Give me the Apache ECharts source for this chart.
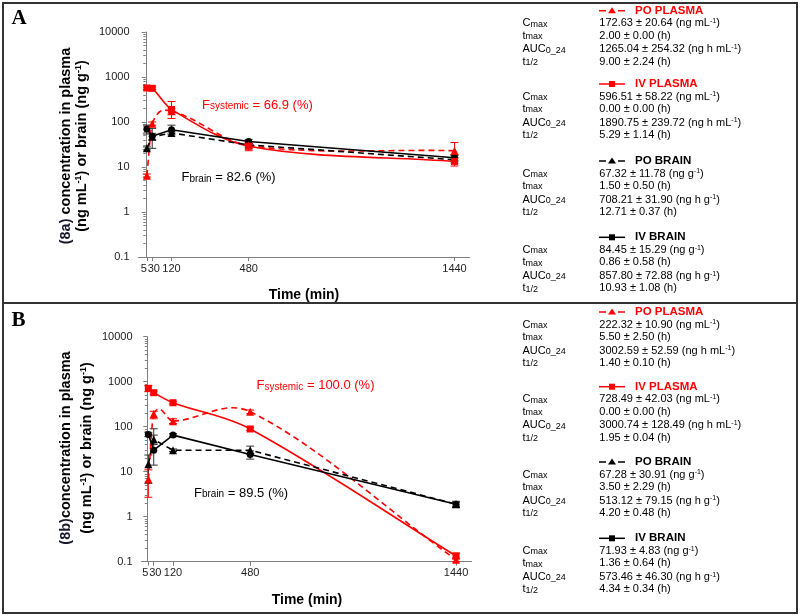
<!DOCTYPE html>
<html><head><meta charset="utf-8">
<script src="https://cdn.jsdelivr.net/npm/echarts@6/dist/echarts.min.js"></script>
<style>html,body{margin:0;padding:0;background:#fff}#c{width:800px;height:616px}</style>
</head><body><div id="c"></div>
<script>
// ---------- data ----------
const times = [5, 30, 120, 480, 1440];
const xTickValues = [5, 30, 120, 480, 1440];
const xLabelValuesMain = [5, 120, 480, 1440];
const xLabelValuesExtra = [30];

// Panel A (8a)
const aIvPlasma    = [570, 560, 190, 29, 13.3];
const aIvPlasmaLo  = [520, 530, 120, 23, 10.5];
const aIvPlasmaHi  = [640, 600, 285, 35, 16];
const aPoPlasma    = [6.4, 92, 172.6, 30, 23];
const aPoPlasmaLo  = [6.0, 85, 150, 27, 19];
const aPoPlasmaHi  = [7.0, 100, 195, 33, 35];
const aIvBrain     = [70, 48, 67, 37, 16];
const aIvBrainLo   = [54, 40, 57, 33, 14];
const aIvBrainHi   = [85, 56, 85, 41, 18];
const aPoBrain     = [26, 47, 57, 31, 14.5];
const aPoBrainLo   = [24, 26, 52, 29, 13];
const aPoBrainHi   = [28, 72, 62, 33, 16];

// Panel B (8b)
const bIvPlasma    = [713, 570, 341, 89, 0.134];
const bIvPlasmaLo  = [600, 520, 320, 82, 0.115];
const bIvPlasmaHi  = [820, 620, 365, 97, 0.155];
const bPoPlasma    = [6.8, 191, 133, 215, 0.11];
const bPoPlasmaLo  = [2.7, 150, 118, 195, 0.1];
const bPoPlasmaHi  = [11, 220, 150, 235, 0.12];
const bIvBrain     = [67.5, 30, 65, 24, 1.9];
const bIvBrainLo   = [60, 14, 60, 19, 1.6];
const bIvBrainHi   = [75, 90, 70, 29, 2.2];
const bPoBrain     = [14.6, 52, 30, 30, 1.9];
const bPoBrainLo   = [5.5, 40, 28, 25, 1.7];
const bPoBrainHi   = [23.5, 65, 32, 37, 2.1];

// Annotations
const aFsys = '66.9', aFbrain = '82.6';
const bFsys = '100.0', bFbrain = '89.5';

// Tables
const seriesNames = ['PO PLASMA', 'IV PLASMA', 'PO BRAIN', 'IV BRAIN'];
const aTable = [
  ['172.63 ± 20.64 (ng mL{sup|-1})', '2.00 ± 0.00 (h)', '1265.04 ± 254.32 (ng h mL{sup|-1})', '9.00 ± 2.24 (h)'],
  ['596.51 ± 58.22 (ng mL{sup|-1})', '0.00 ± 0.00 (h)', '1890.75 ± 239.72 (ng h mL{sup|-1})', '5.29 ± 1.14 (h)'],
  ['67.32 ± 11.78 (ng g{sup|-1})', '1.50 ± 0.50 (h)', '708.21 ± 31.90 (ng h g{sup|-1})', '12.71 ± 0.37 (h)'],
  ['84.45 ± 15.29 (ng g{sup|-1})', '0.86 ± 0.58 (h)', '857.80 ± 72.88 (ng h g{sup|-1})', '10.93 ± 1.08 (h)']
];
const bTable = [
  ['222.32 ± 10.90 (ng mL{sup|-1})', '5.50 ± 2.50 (h)', '3002.59 ± 52.59 (ng h mL{sup|-1})', '1.40 ± 0.10 (h)'],
  ['728.49 ± 42.03 (ng mL{sup|-1})', '0.00 ± 0.00 (h)', '3000.74 ± 128.49 (ng h mL{sup|-1})', '1.95 ± 0.04 (h)'],
  ['67.28 ± 30.91 (ng g{sup|-1})', '3.50 ± 2.29 (h)', '513.12 ± 79.15 (ng h g{sup|-1})', '4.20 ± 0.48 (h)'],
  ['71.93 ± 4.83 (ng g{sup|-1})', '1.36 ± 0.64 (h)', '573.46 ± 46.30 (ng h g{sup|-1})', '4.34 ± 0.34 (h)']
];
const rowLabels = [['C', 'max'], ['t', 'max'], ['AUC', '0_24'], ['t', '1/2']];

// ---------- build ----------
const FF = '"Liberation Sans", Arial, sans-serif';
const RED = '#ff0000', BLK = '#000000';
const zip = (ys) => times.map((t, i) => [t, ys[i]]);
const zipErr = (lo, hi) => times.map((t, i) => [t, lo[i], hi[i]]);

function errRender(color) {
  return function (params, api) {
    const x = api.value(0), lo = api.value(1), hi = api.value(2);
    const p1 = api.coord([x, lo]), p2 = api.coord([x, hi]);
    const w = 4, st = { stroke: color, lineWidth: 1 };
    return { type: 'group', children: [
      { type: 'line', shape: { x1: p1[0], y1: p1[1], x2: p2[0], y2: p2[1] }, style: st },
      { type: 'line', shape: { x1: p1[0] - w, y1: p1[1], x2: p1[0] + w, y2: p1[1] }, style: st },
      { type: 'line', shape: { x1: p2[0] - w, y1: p2[1], x2: p2[0] + w, y2: p2[1] }, style: st }
    ] };
  };
}

// cubic Hermite (Catmull-Rom style) curve through the data points, in screen space (log y)
function splineRender(color, dashed) {
  return function (params, api) {
    const i = params.dataIndexInside, n = params.dataInsideLength;
    if (i >= n - 1) return null;
    const P = [];
    for (let j = 0; j < n; j++) P.push(api.coord([api.value(0, j), api.value(1, j)]));
    const x = P.map(p => p[0]), y = P.map(p => p[1]);
    const tan = (j) => {
      if (j === 0) return (y[1] - y[0]) / (x[1] - x[0]);
      if (j === n - 1) return (y[n - 1] - y[n - 2]) / (x[n - 1] - x[n - 2]);
      return (y[j + 1] - y[j - 1]) / (x[j + 1] - x[j - 1]);
    };
    const h = x[i + 1] - x[i];
    const m0 = tan(i), m1 = tan(i + 1);
    return { type: 'bezierCurve', shape: {
        x1: x[i], y1: y[i], x2: x[i + 1], y2: y[i + 1],
        cpx1: x[i] + h / 3, cpy1: y[i] + m0 * h / 3,
        cpx2: x[i + 1] - h / 3, cpy2: y[i + 1] - m1 * h / 3 },
      style: { stroke: color, lineWidth: 1.6, fill: null, lineDash: dashed ? [6, 4] : null } };
  };
}

function lineSeries(idx, data, color, dashed, symbol, spline) {
  return {
    type: 'line', xAxisIndex: idx, yAxisIndex: idx, data: data,
    symbol: symbol, symbolSize: symbol === 'triangle' ? 8 : 7,
    showSymbol: true, z: 4,
    lineStyle: { color: color, width: spline ? 0 : 1.6, opacity: spline ? 0 : 1, type: dashed ? [6, 4] : 'solid' },
    itemStyle: { color: color }
  };
}
function splineSeries(idx, data, color, dashed) {
  return { type: 'custom', xAxisIndex: idx, yAxisIndex: idx, data: data,
    renderItem: splineRender(color, dashed), encode: { x: 0, y: 1 }, z: 3, silent: true };
}
function errSeries(idx, data, color) {
  return { type: 'custom', xAxisIndex: idx, yAxisIndex: idx, data: data,
    renderItem: errRender(color), encode: { x: 0, y: [1, 2] }, z: 2, silent: true };
}

const grids = [
  { left: 138.5, top: 32, width: 331, height: 225 },
  { left: 141.5, top: 336.7, width: 330.2, height: 225 }
];
const xRanges = [[-34, 1510], [-27, 1513]];

function xLabelFmt(v) {
  if (v === 5) return '5  ';
  if (v === 30) return ' 30';
  return String(v);
}
function xAxis(i) {
  return {
    type: 'value', gridIndex: i, min: xRanges[i][0], max: xRanges[i][1],
    axisLine: { show: true, onZero: false, lineStyle: { color: '#7f7f7f', width: 1 } },
    axisTick: { show: true, customValues: xTickValues, length: 4, lineStyle: { color: '#7f7f7f' } },
    axisLabel: { customValues: xLabelValuesMain, hideOverlap: false, showMinLabel: true, showMaxLabel: true,
      color: '#222', fontSize: 11, fontFamily: FF, margin: 6, formatter: xLabelFmt },
    splitLine: { show: false }
  };
}
function xAxisExtra(i) {
  return {
    type: 'value', gridIndex: i, min: xRanges[i][0], max: xRanges[i][1], position: 'bottom',
    axisLine: { show: false }, axisTick: { show: false },
    axisLabel: { customValues: xLabelValuesExtra, color: '#222', fontSize: 11, fontFamily: FF, margin: 6, formatter: xLabelFmt },
    splitLine: { show: false }
  };
}
function yAxis(i) {
  return {
    type: 'log', logBase: 10, gridIndex: i, min: 0.1, max: 10000,
    axisLine: { show: true, lineStyle: { color: '#7f7f7f', width: 1 } },
    axisTick: { show: true, length: 4, lineStyle: { color: '#7f7f7f' } },
    minorTick: { show: true, splitNumber: 9, length: 2.5, lineStyle: { color: '#7f7f7f' } },
    axisLabel: { color: '#222', fontSize: 11, fontFamily: FF, margin: 9,
      formatter: v => String(+(+v).toPrecision(6)) },
    splitLine: { show: false }
  };
}

const series = [
  // A
  errSeries(0, zipErr(aIvPlasmaLo, aIvPlasmaHi), RED),
  errSeries(0, zipErr(aPoPlasmaLo, aPoPlasmaHi), RED),
  errSeries(0, zipErr(aIvBrainLo, aIvBrainHi), '#333'),
  errSeries(0, zipErr(aPoBrainLo, aPoBrainHi), '#333'),
  lineSeries(0, zip(aIvBrain), BLK, false, 'circle', false),
  lineSeries(0, zip(aPoBrain), BLK, true, 'triangle', false),
  splineSeries(0, zip(aIvPlasma), RED, false),
  splineSeries(0, zip(aPoPlasma), RED, true),
  lineSeries(0, zip(aIvPlasma), RED, false, 'rect', true),
  lineSeries(0, zip(aPoPlasma), RED, true, 'triangle', true),
  // B
  errSeries(1, zipErr(bIvPlasmaLo, bIvPlasmaHi), RED),
  errSeries(1, zipErr(bPoPlasmaLo, bPoPlasmaHi), RED),
  errSeries(1, zipErr(bIvBrainLo, bIvBrainHi), '#333'),
  errSeries(1, zipErr(bPoBrainLo, bPoBrainHi), '#333'),
  lineSeries(1, zip(bIvBrain), BLK, false, 'circle', false),
  lineSeries(1, zip(bPoBrain), BLK, true, 'triangle', false),
  splineSeries(1, zip(bIvPlasma), RED, false),
  splineSeries(1, zip(bPoPlasma), RED, true),
  lineSeries(1, zip(bIvPlasma), RED, false, 'rect', true),
  lineSeries(1, zip(bPoPlasma), RED, true, 'triangle', true)
];

// ---------- graphics ----------
const G = [];
G.push({ type: 'rect', shape: { x: 3, y: 3, width: 794, height: 610 }, style: { fill: 'none', stroke: '#333', lineWidth: 2 }, silent: true });
G.push({ type: 'line', shape: { x1: 3, y1: 303, x2: 797, y2: 303 }, style: { stroke: '#333', lineWidth: 2 }, silent: true });
G.push({ type: 'text', x: 11.5, y: 19, style: { text: 'A', font: 'bold 21px "Liberation Serif", "Times New Roman", serif', fill: '#000', verticalAlign: 'middle' } });
G.push({ type: 'text', x: 11.5, y: 320.5, style: { text: 'B', font: 'bold 21px "Liberation Serif", "Times New Roman", serif', fill: '#000', verticalAlign: 'middle' } });

const titleRich = {
  n: { fontFamily: FF, fontWeight: 'bold', fontSize: 14.5, fill: '#000' },
  d: { fontFamily: FF, fontWeight: 'bold', fontSize: 14.5, fill: '#16162e' },
  sup: { fontFamily: FF, fontWeight: 'bold', fontSize: 9, fill: '#000', verticalAlign: 'top' }
};
function yTitle(x1, x2, yc, tag) {
  G.push({ type: 'text', x: x1, y: yc, rotation: Math.PI / 2,
    style: { text: '{d|' + tag + '}{n|concentration in plasma}', rich: titleRich, align: 'center', verticalAlign: 'middle' } });
  G.push({ type: 'text', x: x2, y: yc, rotation: Math.PI / 2,
    style: { text: '{n|(ng mL}{sup|-1}{n|) or brain (ng g}{sup|-1}{n|)}', rich: titleRich, align: 'center', verticalAlign: 'middle' } });
}
yTitle(66, 82, 146, '(8a) ');
yTitle(66, 86.5, 448, '(8b)');
G.push({ type: 'text', x: 304, y: 295, style: { text: 'Time (min)', font: 'bold 14px ' + FF, fill: '#000', align: 'center', verticalAlign: 'middle' } });
G.push({ type: 'text', x: 307, y: 600, style: { text: 'Time (min)', font: 'bold 14px ' + FF, fill: '#000', align: 'center', verticalAlign: 'middle' } });

function fNote(x, y, sub, val, color) {
  G.push({ type: 'text', x: x, y: y, style: {
    text: '{b|F}{s|' + sub + '}{b| = ' + val + ' (%)}', verticalAlign: 'middle',
    rich: { b: { fontFamily: FF, fontSize: 13, fill: color }, s: { fontFamily: FF, fontSize: 10, fill: color, verticalAlign: 'bottom' } } } });
}
fNote(202, 105, 'systemic', aFsys, RED);
fNote(181.5, 177.5, 'brain', aFbrain, BLK);
fNote(256.5, 385.5, 'systemic', bFsys, RED);
fNote(194, 493, 'brain', bFbrain, BLK);

const valRich = {
  v: { fontFamily: FF, fontSize: 11, fill: '#000' },
  sup: { fontFamily: FF, fontSize: 7, fill: '#000', verticalAlign: 'top' }
};
const labRich = {
  m: { fontFamily: FF, fontSize: 11, fill: '#000' },
  s: { fontFamily: FF, fontSize: 9, fill: '#000', verticalAlign: 'bottom' }
};
const headColors = [RED, RED, BLK, BLK];
const headDashed = [true, false, true, false];
const rowOffsets = [12.5, 25, 38.5, 51];
function valText(s) {
  return s.split(/(\{sup\|[^}]*\})/).filter(p => p).map(p => p.startsWith('{sup|') ? p : '{v|' + p + '}').join('');
}
function table(headerYs, tbl) {
  headerYs.forEach((hy, b) => {
    const c = headColors[b];
    if (headDashed[b]) {
      G.push({ type: 'line', shape: { x1: 599, y1: hy, x2: 606, y2: hy }, style: { stroke: c, lineWidth: 1.5 } });
      G.push({ type: 'line', shape: { x1: 618, y1: hy, x2: 625, y2: hy }, style: { stroke: c, lineWidth: 1.5 } });
      G.push({ type: 'polygon', shape: { points: [[612, hy - 3.5], [616, hy + 2.5], [608, hy + 2.5]] }, style: { fill: c } });
    } else {
      G.push({ type: 'line', shape: { x1: 599, y1: hy, x2: 625, y2: hy }, style: { stroke: c, lineWidth: 1.5 } });
      G.push({ type: 'rect', shape: { x: 609, y: hy - 3, width: 6, height: 6 }, style: { fill: c } });
    }
    G.push({ type: 'text', x: 635, y: hy, style: { text: seriesNames[b], font: 'bold 11.5px ' + FF, fill: c, verticalAlign: 'middle' } });
    rowOffsets.forEach((off, r) => {
      G.push({ type: 'text', x: 522.5, y: hy + off, style: { text: '{m|' + rowLabels[r][0] + '}{s|' + rowLabels[r][1] + '}', rich: labRich, verticalAlign: 'middle' } });
      G.push({ type: 'text', x: 599.3, y: hy + off, style: { text: valText(tbl[b][r]), rich: valRich, verticalAlign: 'middle' } });
    });
  });
}
table([10.7, 84, 161, 237.3], aTable);
table([312, 386.7, 462, 538.3], bTable);

const chart = echarts.init(document.getElementById('c'), null, { renderer: 'canvas' });
chart.setOption({
  animation: false,
  backgroundColor: '#fff',
  grid: grids,
  xAxis: [xAxis(0), xAxis(1), xAxisExtra(0), xAxisExtra(1)],
  yAxis: [yAxis(0), yAxis(1)],
  series: series,
  graphic: G
});
</script></body></html>
